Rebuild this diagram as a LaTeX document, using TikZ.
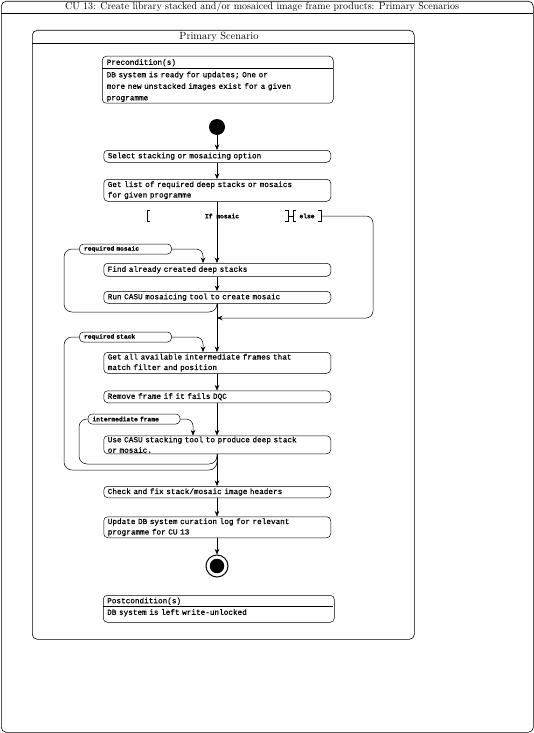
\documentclass[tikz,border=0pt]{standalone}
\usepackage{fontspec}
\setmonofont{Liberation Mono}[FakeBold=0.6]
\usetikzlibrary{arrows.meta}
\begin{document}
\begin{tikzpicture}[x=1pt,y=-1pt,
  frame/.style={draw, rounded corners=5pt, line width=0.6pt, anchor=north west, inner sep=0pt},
  act/.style={draw, rounded corners=4pt, anchor=north west, minimum width=227pt, text width=219pt,
    inner xsep=4pt, inner ysep=0pt, align=left, line width=0.5pt,
    font=\ttfamily\fontsize{7.7}{10.5}\selectfont},
  cond/.style={draw, rounded corners=4pt, anchor=north west, minimum width=231pt, inner sep=0pt, line width=0.5pt},
  condtxt/.style={anchor=north west, text width=224pt, inner sep=0pt, align=left,
    font=\ttfamily\fontsize{7.7}{11.5}\selectfont},
  pinbox/.style={draw, rounded corners=4pt, minimum width=92pt, text width=83pt, minimum height=10pt,
    inner xsep=4.5pt, inner ysep=0pt, align=left,
    line width=0.5pt, font=\ttfamily\bfseries\fontsize{6.3}{7}\selectfont},
  small/.style={inner sep=0.5pt, font=\ttfamily\bfseries\fontsize{6.3}{7}\selectfont},
  arr/.style={line width=0.5pt, -{Stealth[length=5.5pt,width=4.5pt]}},
  flow/.style={line width=0.5pt}]
\useasboundingbox (0,0) rectangle (534,733);
% outer frame
\node[frame, minimum width=532pt, minimum height=731pt] (outer) at (1,1) {};
\node[font=\fontsize{10}{12}\selectfont] (title) at (262,7) {CU 13: Create library stacked and/or mosaiced image frame products: Primary Scenarios};
\draw[line width=0.6pt] (1,13) -- (533,13);
% inner frame
\node[frame, minimum width=382pt, minimum height=609pt] (inner) at (32,30) {};
\node[font=\fontsize{10.4}{12}\selectfont] (ititle) at (219,36.5) {Primary Scenario};
\draw[line width=0.6pt] (32,43) -- (414,43);
% precondition
\node[cond, minimum height=47pt] (pre) at (102,56) {};
\draw[line width=0.5pt] (102,68) -- (333,68);
\node[condtxt] (pret) at (106.5,59) {Precondition(s)};
\node[condtxt] (preb) at (106.5,71.5) {DB system is ready for updates; One or\\more new unstacked images exist for a given\\programme};
% start
\node[circle, fill, minimum size=16pt, inner sep=0pt] (start) at (217,127) {};
% actions
\node[act, minimum height=12pt] (sel) at (103.5,150) {Select stacking or mosaicing option};
\node[act, minimum height=22pt] (getlist) at (103.5,179) {Get list of required deep stacks or mosaics\\for given programme};
\node[act, minimum height=13pt] (find) at (103.5,263) {Find already created deep stacks};
\node[act, minimum height=12pt] (run) at (103.5,291) {Run CASU mosaicing tool to create mosaic};
\node[act, minimum height=21pt] (getall) at (103.5,352) {Get all available intermediate frames that\\match filter and position};
\node[act, minimum height=12pt] (remove) at (103.5,390.5) {Remove frame if it fails DQC};
\node[act, minimum height=18pt] (use) at (103.5,435.5) {Use CASU stacking tool to produce deep stack\\or mosaic.};
\node[act, minimum height=11.5pt] (check) at (103.5,486) {Check and fix stack/mosaic image headers};
\node[act, minimum height=21pt] (update) at (103.5,516.5) {Update DB system curation log for relevant\\programme for CU 13};
% end
\node[circle, draw, line width=1pt, minimum size=22pt, inner sep=0pt] (end) at (217,566) {};
\node[circle, fill, minimum size=14.5pt, inner sep=0pt] (endin) at (end) {};
% postcondition
\node[cond, minimum height=27pt] (post) at (103,595) {};
\draw[line width=0.5pt] (103,606) -- (333,606);
\node[condtxt] (postt) at (107,597.5) {Postcondition(s)};
\node[condtxt] (postb) at (107,609) {DB system is left write-unlocked};
% pins
\node[pinbox] (reqm) at (125.5,249) {required mosaic};
\node[pinbox] (reqs) at (125.5,337) {required stack};
\node[pinbox] (intf) at (134,419) {intermediate frame};
% guards
\node[small] (ifm) at (222,216) {If mosaic};
\draw[line width=0.5pt] (150,210.5) -- (147,210.5) -- (147,221.5) -- (150,221.5);
\coordinate (ifr) at (288,216);
\draw[line width=0.5pt] (285,210.5) -- (288,210.5) -- (288,221.5) -- (285,221.5);
\node[small] (elsel) at (307,216) {else};
\draw[line width=0.5pt] (296,210.5) -- (293,210.5) -- (293,221.5) -- (296,221.5);
\draw[line width=0.5pt] (318,210.5) -- (321,210.5) -- (321,221.5) -- (318,221.5);
\coordinate (elsestart) at (293,216);
\coordinate (elseend) at (321,216);
\coordinate (merge1) at (217,318);
% flows
\draw[arr] (start) -- (start |- sel.north);
\draw[arr] (start |- sel.south) -- (start |- getlist.north);
\draw[arr] (start |- getlist.south) -- (start |- find.north);
\draw[arr] (start |- find.south) -- (start |- run.north);
\draw[flow] (start |- run.south) -- (merge1);
\draw[flow] (ifr) -- (elsestart);
\draw[arr, rounded corners=7pt] (elseend) -- (373,216) -- (373,318) -- (merge1);
\draw[arr] (merge1) -- (start |- getall.north);
\draw[arr] (start |- getall.south) -- (start |- remove.north);
\draw[arr] (start |- remove.south) -- (start |- use.north);
\draw[arr] (start |- use.south) -- (start |- check.north);
\draw[arr] (start |- check.south) -- (start |- update.north);
\draw[arr] (start |- update.south) -- (end);
% pin flows
\coordinate (cm) at (203,249);
\coordinate (cs) at (203,337);
\coordinate (ci) at (193,419);
\draw[arr, rounded corners=7pt] (reqm.east) -- (cm) -- (cm |- find.north);
\draw[arr, rounded corners=7pt] (reqs.east) -- (cs) -- (cs |- getall.north);
\draw[arr, rounded corners=7pt] (intf.east) -- (ci) -- (ci |- use.north);
% loops
\draw[flow, rounded corners=8pt] (start |- run.south) -- (217,312) -- (64,312) -- (64,249) -- (reqm.west);
\draw[flow, rounded corners=8pt] (start |- use.south) -- (217,470) -- (64,470) -- (64,337) -- (reqs.west);
\draw[flow, rounded corners=8pt] (start |- use.south) -- (217,464) -- (79,464) -- (79,419) -- (intf.west);
\end{tikzpicture}
\end{document}
